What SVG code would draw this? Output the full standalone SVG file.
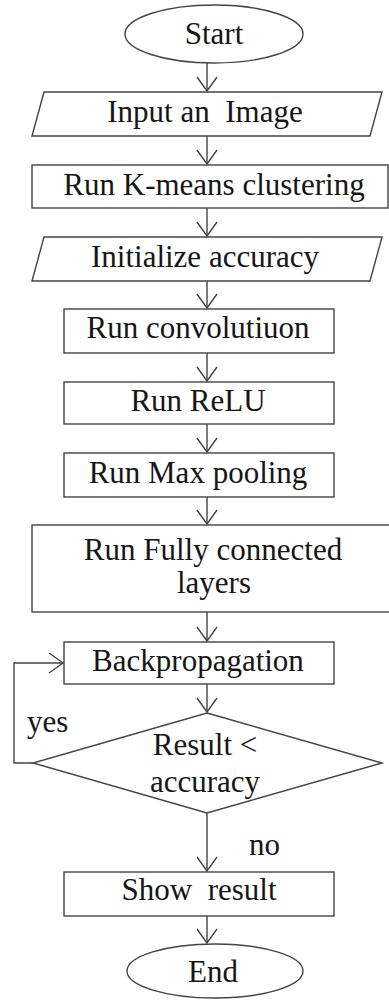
<svg xmlns="http://www.w3.org/2000/svg" width="389" height="1000" viewBox="0 0 389 1000">
  <style>
    .shape { fill: #ffffff; stroke: #444444; stroke-width: 1.4; }
    .edge { fill: none; stroke: #444444; stroke-width: 1.4; }
    text { font-family: "Liberation Serif", "Times New Roman", serif; font-size: 31px; fill: #161616; white-space: pre; }
    .label { text-anchor: middle; }
  </style>
  <defs>
    <!-- open V arrowhead used by every connector -->
    <marker id="arrow" markerUnits="userSpaceOnUse" markerWidth="24" markerHeight="24" viewBox="-16 -12 20 24" refX="0" refY="0" orient="auto">
      <path d="M-14,-10 L0,0 L-14,10" fill="none" stroke="#444444" stroke-width="1.4"/>
    </marker>
  </defs>
  <rect width="389" height="1000" fill="#ffffff"/>

  <!-- connectors -->
  <g id="connectors">
    <line class="edge" x1="207" y1="63" x2="207" y2="91" marker-end="url(#arrow)"/>
    <line class="edge" x1="207" y1="136" x2="207" y2="164" marker-end="url(#arrow)"/>
    <line class="edge" x1="207" y1="208" x2="207" y2="236" marker-end="url(#arrow)"/>
    <line class="edge" x1="207" y1="281" x2="207" y2="308" marker-end="url(#arrow)"/>
    <line class="edge" x1="207" y1="353" x2="207" y2="381" marker-end="url(#arrow)"/>
    <line class="edge" x1="207" y1="424" x2="207" y2="452" marker-end="url(#arrow)"/>
    <line class="edge" x1="207" y1="497" x2="207" y2="524" marker-end="url(#arrow)"/>
    <line class="edge" x1="207" y1="612" x2="207" y2="641" marker-end="url(#arrow)"/>
    <line class="edge" x1="207" y1="684" x2="207" y2="712" marker-end="url(#arrow)"/>
    <line class="edge" x1="207" y1="813" x2="207" y2="871" marker-end="url(#arrow)"/>
    <line class="edge" x1="207" y1="916" x2="207" y2="943" marker-end="url(#arrow)"/>
    <!-- loop back from the decision to backpropagation -->
    <polyline class="edge" points="33,763 14,763 14,663 63,663" marker-end="url(#arrow)"/>
    <text x="27" y="732">yes</text>
    <text x="249" y="855">no</text>
  </g>

  <g id="start">
    <ellipse class="shape" cx="214" cy="34" rx="89" ry="29"/>
    <text class="label" x="214" y="44">Start</text>
  </g>

  <g id="input-image">
    <polygon class="shape" points="44,92 382,92 370,136 32,136"/>
    <text class="label" x="205" y="122">Input an  Image</text>
  </g>

  <g id="kmeans">
    <rect class="shape" x="32" y="165" width="356" height="43"/>
    <text class="label" x="214" y="195">Run K-means clustering</text>
  </g>

  <g id="init-accuracy">
    <polygon class="shape" points="44,237 382,237 370,281 32,281"/>
    <text class="label" x="205" y="267">Initialize accuracy</text>
  </g>

  <g id="convolution">
    <rect class="shape" x="64" y="309" width="270" height="44"/>
    <text class="label" x="198" y="338">Run convolutiuon</text>
  </g>

  <g id="relu">
    <rect class="shape" x="64" y="382" width="270" height="42"/>
    <text class="label" x="198" y="411">Run ReLU</text>
  </g>

  <g id="max-pooling">
    <rect class="shape" x="64" y="453" width="270" height="44"/>
    <text class="label" x="198" y="483">Run Max pooling</text>
  </g>

  <g id="fully-connected">
    <rect class="shape" x="32" y="525" width="362" height="87"/>
    <text class="label" x="213" y="560">Run Fully connected</text>
    <text class="label" x="214" y="593">layers</text>
  </g>

  <g id="backprop">
    <rect class="shape" x="64" y="642" width="270" height="42"/>
    <text class="label" x="198" y="671">Backpropagation</text>
  </g>

  <g id="decision">
    <polygon class="shape" points="207,713 382,763 207,813 33,763"/>
    <text class="label" x="205" y="755">Result &lt;</text>
    <text class="label" x="205" y="792">accuracy</text>
  </g>

  <g id="show-result">
    <rect class="shape" x="64" y="872" width="270" height="44"/>
    <text class="label" x="199" y="900">Show  result</text>
  </g>

  <g id="end">
    <ellipse class="shape" cx="215" cy="971" rx="88" ry="27"/>
    <text class="label" x="213" y="982">End</text>
  </g>
</svg>
